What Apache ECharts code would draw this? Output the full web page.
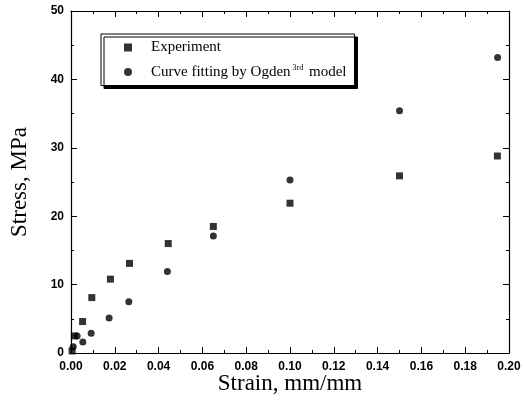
<!DOCTYPE html>
<html lang="en">
<head>
    <meta charset="utf-8">
    <title>Stress-Strain</title>
    <script src="https://cdn.jsdelivr.net/npm/echarts@6/dist/echarts.min.js"></script>
</head>
<body style="margin:0">
    <div id="main" style="width:524px;height:405px;"></div>
    <script type="text/javascript">

    // data
    var expStrain = [0.0005, 0.0015, 0.0053, 0.0095, 0.018, 0.0267, 0.0444, 0.065, 0.100, 0.150, 0.1947];
    var expStress = [0.3, 2.5, 4.6, 8.1, 10.8, 13.1, 16.0, 18.5, 21.9, 25.9, 28.8];
    var fitStrain = [0.001, 0.0028, 0.0054, 0.0092, 0.0174, 0.0264, 0.044, 0.065, 0.100, 0.150, 0.1948];
    var fitStress = [0.9, 2.5, 1.6, 2.9, 5.1, 7.5, 11.9, 17.1, 25.3, 35.4, 43.2];

    function pairs(xs, ys) {
        return xs.map(function (x, i) { return [x, ys[i]]; });
    }

    var tickFont = { color: '#000', fontFamily: 'Liberation Sans', fontWeight: 'bold', fontSize: 12 };
    var nameFont = { color: '#000', fontFamily: 'Liberation Serif', fontSize: 23 };
    var line = { show: true, onZero: false, lineStyle: { color: '#000', width: 1.2 } };
    var tick = { show: true, inside: true, length: 6, lineStyle: { color: '#000' } };
    var minor = { show: true, splitNumber: 2, length: 3, lineStyle: { color: '#000' } };

    var myChart = echarts.init(document.getElementById('main'));

    myChart.setOption({
        animation: false,
        grid: { left: 69, right: 15, top: 11, bottom: 52 },
        legend: {
            orient: 'vertical',
            left: 101,
            top: 34,
            padding: [6, 8, 6, 23],
            itemGap: 9,
            itemWidth: 8,
            itemHeight: 8,
            backgroundColor: '#fff',
            borderColor: '#000',
            borderWidth: 1,
            shadowColor: '#000',
            shadowBlur: 0,
            shadowOffsetX: 3,
            shadowOffsetY: 3,
            textStyle: {
                color: '#000', fontFamily: 'Liberation Serif', fontSize: 15, padding: [0, 0, 0, 14],
                rich: {
                    sup: { fontFamily: 'Liberation Serif', fontSize: 8, color: '#000', padding: [0, 2, 8, 2] }
                }
            },
            formatter: function (name) {
                return name === 'Fit' ? 'Curve fitting by Ogden{sup|3rd} model' : name;
            },
            data: [
                { name: 'Experiment', icon: 'rect' },
                { name: 'Fit', icon: 'circle' }
            ]
        },
        xAxis: [{
            type: 'value', min: 0, max: 0.2, interval: 0.02,
            name: 'Strain, mm/mm', nameLocation: 'middle', nameGap: 19, nameMoveOverlap: false,
            nameTextStyle: nameFont,
            axisLine: line, axisTick: tick, minorTick: minor, splitLine: { show: false },
            axisLabel: Object.assign({ margin: 8, formatter: function (v) { return v.toFixed(2); } }, tickFont)
        }, {
            type: 'value', position: 'top', min: 0, max: 0.2, interval: 0.02,
            axisLine: line, axisTick: tick, minorTick: minor, splitLine: { show: false },
            axisLabel: { show: false }
        }],
        yAxis: [{
            type: 'value', min: 0, max: 50, interval: 10,
            name: 'Stress, MPa', nameLocation: 'middle', nameGap: 40, nameMoveOverlap: false,
            nameTextStyle: nameFont,
            axisLine: line, axisTick: tick, minorTick: minor, splitLine: { show: false },
            axisLabel: Object.assign({ margin: 7 }, tickFont)
        }, {
            type: 'value', position: 'right', min: 0, max: 50, interval: 10,
            axisLine: line, axisTick: tick, minorTick: minor, splitLine: { show: false },
            axisLabel: { show: false }
        }],
        series: [{
            name: 'Experiment',
            type: 'scatter',
            symbol: 'rect',
            symbolSize: 7,
            itemStyle: { color: '#000' },
            data: pairs(expStrain, expStress)
        }, {
            name: 'Fit',
            type: 'scatter',
            symbol: 'circle',
            symbolSize: 7,
            itemStyle: { color: '#000' },
            data: pairs(fitStrain, fitStress)
        }]
    });

    </script>
</body>
</html>
